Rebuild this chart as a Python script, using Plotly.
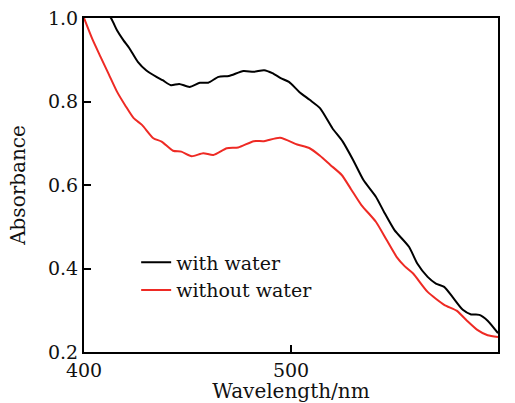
import plotly.graph_objects as go

# Data
wl_with = [400, 405, 410, 413, 416, 419, 422, 426, 430, 435, 438, 442, 446, 451, 456, 460,
           465, 470, 477, 482, 487, 491, 495, 499, 504, 509, 514, 520, 525, 530, 535, 541,
           545, 550, 557, 561, 566, 570, 574, 578, 583, 587, 591, 595, 600]
abs_with = [1.07, 1.045, 1.015, 1.0, 0.97, 0.947, 0.927, 0.895, 0.875, 0.859, 0.851, 0.839,
            0.842, 0.835, 0.845, 0.845, 0.859, 0.861, 0.873, 0.871, 0.875, 0.868, 0.856,
            0.847, 0.823, 0.804, 0.784, 0.736, 0.704, 0.66, 0.612, 0.572, 0.535, 0.492,
            0.452, 0.412, 0.380, 0.364, 0.356, 0.332, 0.301, 0.290, 0.289, 0.275, 0.245]

wl_without = [400, 404, 408, 412, 416, 420, 424, 428, 433.5, 437.5, 443, 447, 452, 457.6,
              462.5, 469, 474.5, 482, 487, 494.7, 503, 509, 514, 519, 524.5, 529, 534, 541,
              546, 551, 555, 559, 566, 574, 580, 585, 590, 595, 600]
abs_without = [1.0, 0.95, 0.907, 0.865, 0.823, 0.79, 0.760, 0.744, 0.712, 0.704, 0.682,
               0.680, 0.669, 0.676, 0.672, 0.688, 0.690, 0.705, 0.705, 0.713, 0.697, 0.688,
               0.67, 0.648, 0.624, 0.59, 0.552, 0.512, 0.47, 0.428, 0.405, 0.388, 0.344,
               0.313, 0.299, 0.275, 0.253, 0.240, 0.236]

x_ticks = [400, 500, 600]
y_ticks = [0.2, 0.4, 0.6, 0.8, 1.0]
y_ticklabels = ["0.2", "0.4", "0.6", "0.8", "1.0"]

FONT = "DejaVu Serif"
TXT = "#111"

fig = go.Figure()
fig.add_trace(go.Scatter(x=wl_with, y=abs_with, mode="lines", name="with water",
                         line=dict(color="black", width=2, shape="spline", smoothing=0.6)))
fig.add_trace(go.Scatter(x=wl_without, y=abs_without, mode="lines", name="without water",
                         line=dict(color="#ee2a24", width=2, shape="spline", smoothing=0.6)))

axis_common = dict(
    showgrid=False, zeroline=False, showline=True, linecolor="black", linewidth=2,
    mirror=True, ticks="inside", ticklen=7, tickwidth=1.5, tickcolor="black",
    tickfont=dict(family=FONT, size=19, color=TXT), automargin=False,
)

fig.update_xaxes(range=[400, 600], tickvals=x_ticks, ticktext=[str(v) for v in x_ticks],
                 title=dict(text="Wavelength/nm", font=dict(family=FONT, size=20, color=TXT),
                            standoff=13),
                 **axis_common)
fig.update_yaxes(range=[0.2, 1.0], tickvals=y_ticks, ticktext=y_ticklabels,
                 title=dict(text="Absorbance", font=dict(family=FONT, size=20, color=TXT),
                            standoff=17),
                 **axis_common)

fig.update_layout(
    width=515, height=403,
    margin=dict(l=84, r=17, t=18, b=51),
    paper_bgcolor="white", plot_bgcolor="white",
    legend=dict(x=0.126, y=0.325, xanchor="left", yanchor="top",
                bgcolor="rgba(0,0,0,0)", font=dict(family=FONT, size=19, color=TXT),
                itemwidth=30, tracegroupgap=0),
    showlegend=True,
)

fig.write_html("out.html", config={"displayModeBar": False},
               post_script="document.body.style.margin='0';document.body.style.overflow='hidden';")
